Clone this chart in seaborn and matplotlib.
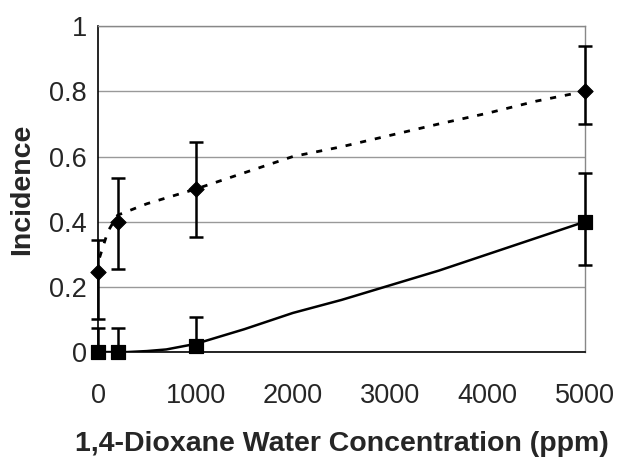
import numpy as np
import pandas as pd
import matplotlib
matplotlib.use("Agg")
import matplotlib.pyplot as plt
import seaborn as sns

# Observed incidence (points with error bars)
dose = [0, 200, 1000, 5000]
inc_diamond = [0.245, 0.40, 0.50, 0.80]
err_diamond_lo = [0.145, 0.146, 0.147, 0.10]
err_diamond_hi = [0.10, 0.134, 0.144, 0.14]
inc_square = [0.0, 0.0, 0.02, 0.40]
err_square_lo = [0.0, 0.0, 0.02, 0.133]
err_square_hi = [0.073, 0.073, 0.087, 0.15]

# Fitted model curves
fit_dose = [15, 100, 200, 500, 1000, 1500, 2000, 2500, 3000, 3500, 4000, 4500, 5000]
fit_dotted = [0.29, 0.37, 0.42, 0.455, 0.50, 0.55, 0.60, 0.63, 0.665, 0.70, 0.733, 0.77, 0.80]
fit_dose_solid = [0, 100, 200, 300, 500, 700, 1000, 1500, 2000, 2500, 3000, 3500, 4000, 4500, 5000]
fit_solid = [0, 0, 0, 0, 0.003, 0.008, 0.025, 0.07, 0.12, 0.16, 0.205, 0.25, 0.30, 0.35, 0.40]

sns.set_style("white")
plt.rcParams['font.family'] = ['Liberation Sans', 'DejaVu Sans']

fig = plt.figure(figsize=(6.25, 4.59), dpi=100)
ax = fig.add_axes([0.157, 0.233, 0.779, 0.71])

df_dot = pd.DataFrame({'dose': fit_dose, 'inc': fit_dotted})
df_sol = pd.DataFrame({'dose': fit_dose_solid, 'inc': fit_solid})
sns.lineplot(data=df_dot, x='dose', y='inc', ax=ax, color='black', lw=2.0,
             linestyle=(0, (2.2, 3.2)), zorder=3)
sns.lineplot(data=df_sol, x='dose', y='inc', ax=ax, color='black', lw=1.8, zorder=3)

ax.errorbar(dose, inc_diamond, yerr=[err_diamond_lo, err_diamond_hi], fmt='none',
            ecolor='black', elinewidth=1.8, capsize=4.8, capthick=1.8, zorder=4, clip_on=False)
ax.errorbar(dose, inc_square, yerr=[err_square_lo, err_square_hi], fmt='none',
            ecolor='black', elinewidth=1.8, capsize=4.8, capthick=1.8, zorder=4, clip_on=False)

pts_d = pd.DataFrame({'dose': dose, 'inc': inc_diamond})
pts_s = pd.DataFrame({'dose': dose, 'inc': inc_square})
sns.scatterplot(data=pts_d, x='dose', y='inc', ax=ax, marker='D', s=62, color='black',
                edgecolor='black', zorder=5, clip_on=False)
sns.scatterplot(data=pts_s, x='dose', y='inc', ax=ax, marker='s', s=115, color='black',
                edgecolor='black', zorder=5, clip_on=False)

ax.set_xlim(0, 5000)
ax.set_ylim(0, 1)
ax.set_xticks([0, 1000, 2000, 3000, 4000, 5000])
ax.set_yticks([0, 0.2, 0.4, 0.6, 0.8, 1])
ax.set_yticklabels(['0', '0.2', '0.4', '0.6', '0.8', '1'])
ax.tick_params(axis='both', labelsize=19.5, width=1, color='black', direction='out')
ax.tick_params(axis='x', length=7, pad=15)
ax.tick_params(axis='y', length=5, pad=3)
ax.yaxis.grid(True, color='#999999', lw=1)
ax.set_axisbelow(True)

for side in ['top', 'right']:
    ax.spines[side].set_color('#888888')
    ax.spines[side].set_linewidth(1)
for side in ['left', 'bottom']:
    ax.spines[side].set_color('black')
    ax.spines[side].set_linewidth(1.2)

ax.set_xlabel('1,4-Dioxane Water Concentration (ppm)', fontsize=20.5, fontweight='bold', labelpad=16)
ax.set_ylabel('Incidence', fontsize=20.5, fontweight='bold', labelpad=10)

fig.savefig('out.png', dpi=100)
